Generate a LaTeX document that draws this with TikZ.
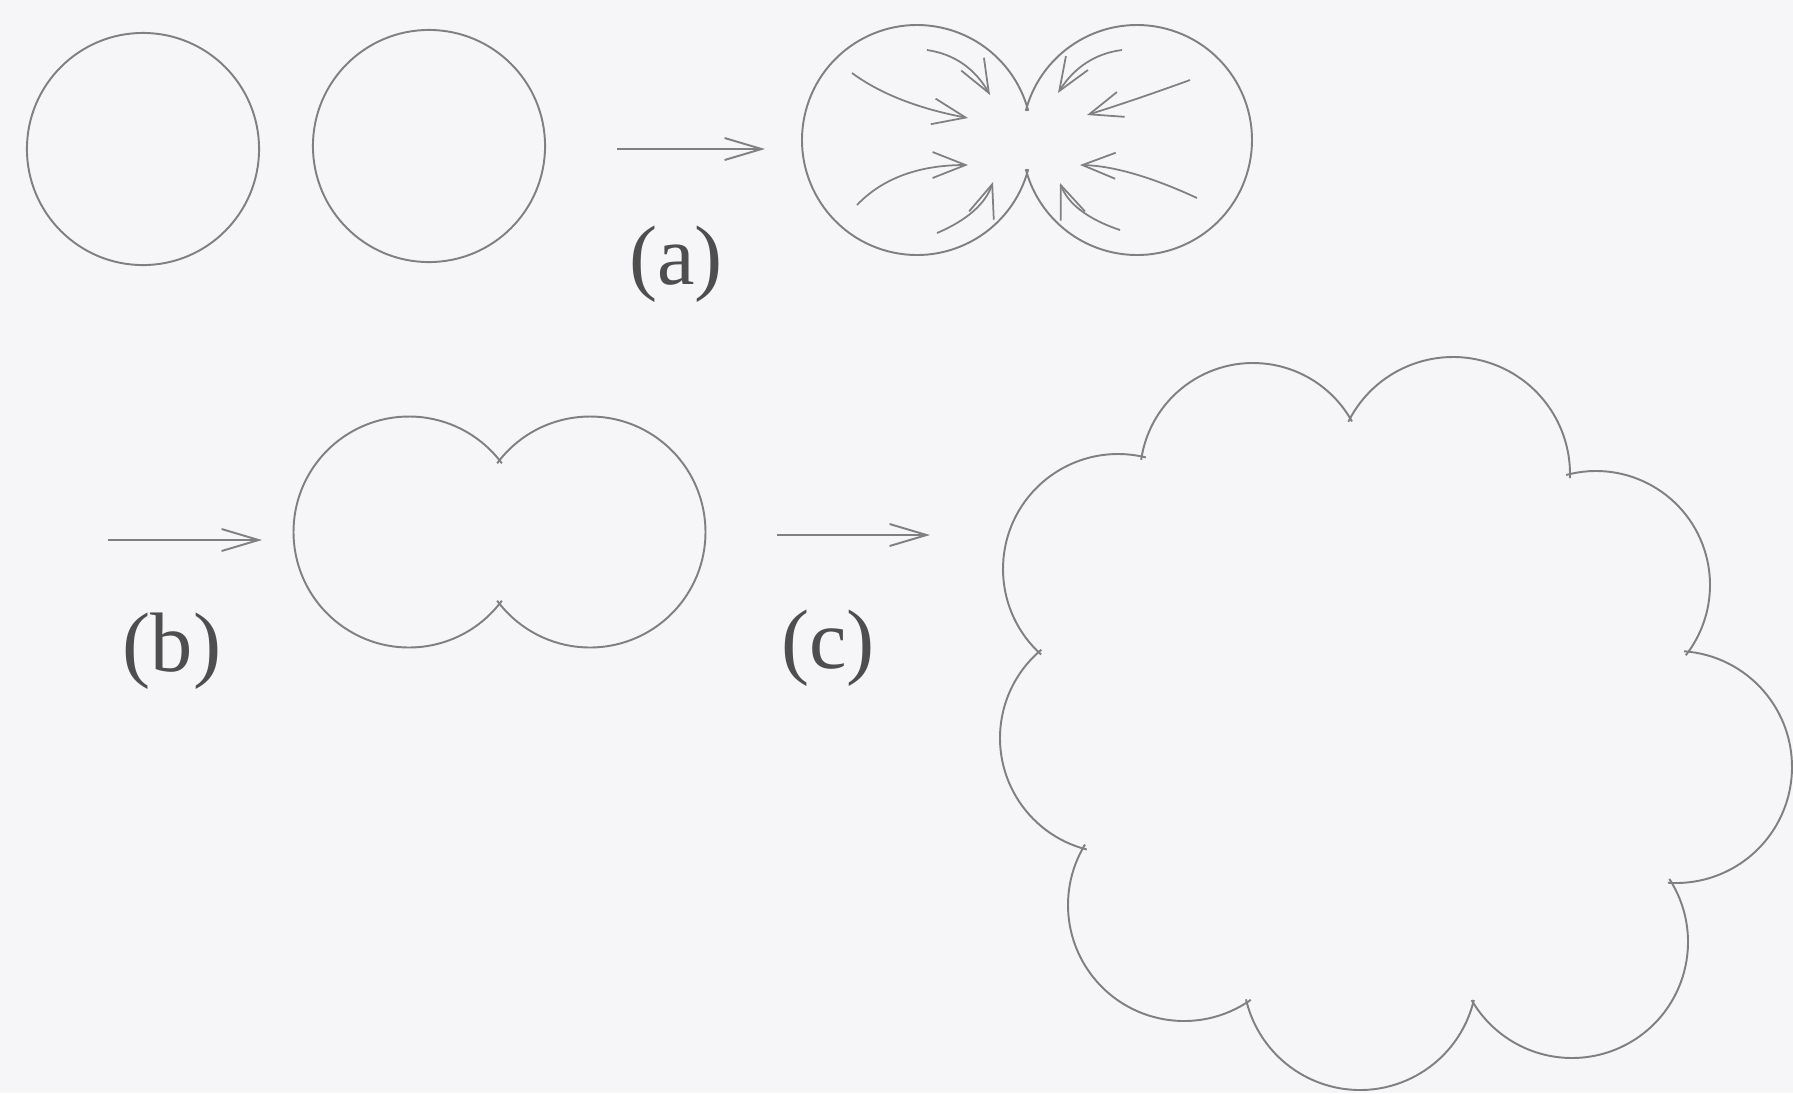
\documentclass[tikz,border=0pt]{standalone}
\usepackage{fontspec}
\setmainfont{Liberation Serif}
\usetikzlibrary{arrows.meta,calc}
\definecolor{paper}{RGB}{246,245,247}
\definecolor{ink}{RGB}{128,128,128}
\definecolor{txt}{RGB}{78,78,78}
\tikzset{
  outline/.style={draw=ink, line width=0.55pt},
  ball/.style={outline, circle, minimum size=2.32cm, inner sep=0pt},
  growth/.style={ink, line width=0.55pt, -{Straight Barb[length=3.7mm,width=2.2mm]}},
  flux/.style={ink, line width=0.5pt, -{Straight Barb[length=3.3mm,width=2.6mm]}},
  tag/.style={text=txt, font=\fontsize{24}{28}\selectfont, inner sep=0pt}
}
% one bulge of an outline: centre, radius, from cusp, to cusp (clockwise)
\newcommand\lobe[4]{%
  \draw[outline] let \p1=($(#3)-(#1)$), \p2=($(#4)-(#1)$),
    \n1={atan2(\y1,\x1)}, \n2={atan2(\y2,\x2)},
    \n3={\n2>\n1 ? \n2-360 : \n2}, \n4={\n1+2}, \n5={\n3-2} in
    ($(#1)+(\n4:#2)$) arc[start angle=\n4, end angle=\n5, radius=#2];}
\begin{document}
\begin{tikzpicture}[x=0.01cm, y=0.01cm]
  \fill[paper] (0,0) rectangle (1793,-1093);
  \useasboundingbox (0,0) rectangle (1793,-1093);

  % two separate drops
  \node[ball] (drop1) at (143,-149) {};
  \node[ball] (drop2) at (429,-146) {};

  % (a)
  \coordinate (a0) at (617,-149);
  \coordinate (a1) at (765,-149);
  \draw[growth] (a0) -- (a1);
  \node[tag] (ta) at (676,-264) {(a)};

  % drops in contact, with flux towards the neck
  \coordinate (ml) at (917,-140);
  \coordinate (mr) at (1137,-140);
  \coordinate (mt) at (1027,-107);
  \coordinate (mb) at (1027,-173);
  \lobe{ml}{115}{mb}{mt}
  \lobe{mr}{115}{mt}{mb}
  \foreach \sx/\sy/\cx/\cy/\ex/\ey in {927/-50/968/-56/990/-95, 852/-73/894/-104/968/-118,
      857/-205/895/-165/968/-165, 937/-233/982/-214/993/-182,
      1122/-50/1082/-55/1058/-93, 1190/-80/1135/-100/1087/-115,
      1197/-198/1128/-166/1080/-165, 1120/-230/1072/-214/1060/-183}
    \draw[flux] (\sx,\sy) .. controls ($(\sx,\sy)!.67!(\cx,\cy)$)
      and ($(\ex,\ey)!.67!(\cx,\cy)$) .. (\ex,\ey);

  % (b)
  \coordinate (b0) at (108,-540);
  \coordinate (b1) at (262,-540);
  \draw[growth] (b0) -- (b1);
  \node[tag] (tb) at (172,-651) {(b)};

  % neck grown
  \coordinate (nl) at (409,-532);
  \coordinate (nr) at (590,-532);
  \coordinate (nt) at (499.5,-460);
  \coordinate (nb) at (499.5,-604);
  \lobe{nl}{115.5}{nb}{nt}
  \lobe{nr}{115.5}{nt}{nb}

  % (c)
  \coordinate (c0) at (777,-535);
  \coordinate (c1) at (930,-535);
  \draw[growth] (c0) -- (c1);
  \node[tag] (tc) at (828,-648) {(c)};

  % cluster of many drops
  \coordinate (k1) at (1142,-456);
  \coordinate (k2) at (1350,-418);
  \coordinate (k3) at (1570,-474);
  \coordinate (k4) at (1688,-652);
  \coordinate (k5) at (1672,-882);
  \coordinate (k6) at (1473,-1004);
  \coordinate (k7) at (1248,-1003);
  \coordinate (k8) at (1083,-848);
  \coordinate (k9) at (1038,-652);
  \coordinate (l12) at (1253,-476);
  \coordinate (l23) at (1453,-474);
  \coordinate (l34) at (1596,-585);
  \coordinate (l45) at (1676,-767);
  \coordinate (l56) at (1572,-942);
  \coordinate (l67) at (1360,-973);
  \coordinate (l78) at (1184,-905);
  \coordinate (l89) at (1115,-738);
  \coordinate (l91) at (1118,-569);
  \foreach \lc/\lr/\ca/\cb in {l12/113/k1/k2, l23/117/k2/k3, l34/114/k3/k4,
      l45/116/k4/k5, l56/116/k5/k6, l67/117/k6/k7, l78/116/k7/k8,
      l89/115/k8/k9, l91/115/k9/k1}
    {\lobe{\lc}{\lr}{\ca}{\cb}}
\end{tikzpicture}
\end{document}
